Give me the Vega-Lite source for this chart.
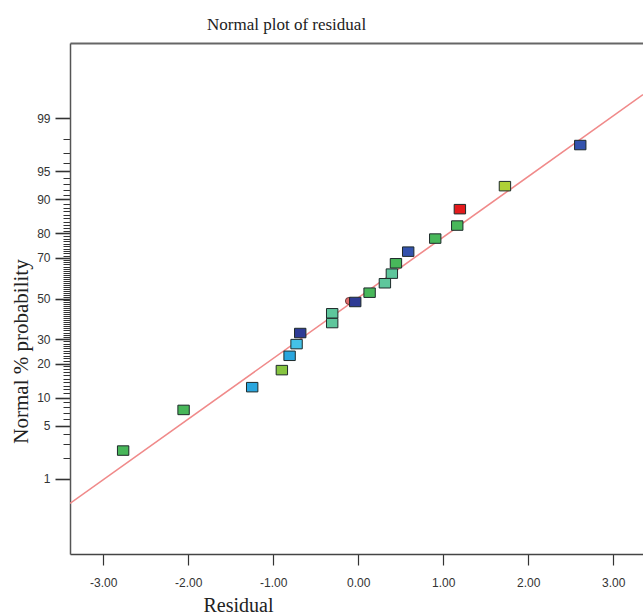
{
  "$schema": "https://vega.github.io/schema/vega-lite/v6.json",
  "autosize": "none",
  "padding": {"left": 70, "top": 43, "right": 0, "bottom": 60},
  "width": 573,
  "height": 511,
  "background": "white",
  "config": {"view": {"stroke": null}},
  "title": {"text": "Normal plot of residual", "anchor": "start", "frame": "group", "dx": 137, "font": "Liberation Serif", "fontSize": 17, "fontWeight": "normal", "color": "#222", "baseline": "alphabetic", "offset": -4},
  "datasets": {
    "fit_line": [
      {"residual": -3.39, "z": -2.646},
      {"residual": 3.35, "z": 2.633}
    ],
    "markers": [
      {"residual": -0.109, "z": -0.032}
    ],
    "residuals": [
      {"residual": -2.765, "z": -1.964, "level": "F"},
      {"residual": -2.054, "z": -1.439, "level": "F"},
      {"residual": -1.247, "z": -1.145, "level": "C"},
      {"residual": -0.898, "z": -0.925, "level": "G"},
      {"residual": -0.807, "z": -0.740, "level": "C"},
      {"residual": -0.725, "z": -0.589, "level": "D"},
      {"residual": -0.682, "z": -0.446, "level": "A"},
      {"residual": -0.306, "z": -0.317, "level": "E"},
      {"residual": -0.306, "z": -0.191, "level": "E"},
      {"residual": -0.035, "z": -0.045, "level": "A"},
      {"residual": 0.134, "z": 0.075, "level": "F"},
      {"residual": 0.314, "z": 0.197, "level": "E"},
      {"residual": 0.396, "z": 0.321, "level": "E"},
      {"residual": 0.444, "z": 0.455, "level": "F"},
      {"residual": 0.588, "z": 0.605, "level": "B"},
      {"residual": 0.906, "z": 0.774, "level": "F"},
      {"residual": 1.165, "z": 0.942, "level": "F"},
      {"residual": 1.196, "z": 1.154, "level": "H"},
      {"residual": 1.726, "z": 1.451, "level": "I"},
      {"residual": 2.612, "z": 1.982, "level": "B"}
    ]
  },
  "resolve": {"axis": {"x": "independent", "y": "independent"}},
  "layer": [
    {
      "data": {"name": "fit_line"},
      "mark": {"type": "line", "color": "#f08a8a", "strokeWidth": 1.6, "clip": true},
      "encoding": {
        "x": {"field": "residual", "type": "quantitative", "scale": {"domain": [-3.39, 3.35], "nice": false, "zero": false},
          "axis": {"orient": "top", "labels": false, "ticks": false, "title": null, "grid": false, "domainColor": "#666", "domainWidth": 2}},
        "y": {"field": "z", "type": "quantitative", "scale": {"domain": [-3.3, 3.3], "nice": false, "zero": false}, "axis": null}
      }
    },
    {
      "data": {"name": "markers"},
      "mark": {"type": "point", "shape": "circle", "filled": true, "size": 50, "fill": "#e06a6a", "stroke": "#552222", "strokeWidth": 0.8, "opacity": 1},
      "encoding": {
        "x": {"field": "residual", "type": "quantitative", "axis": null},
        "y": {"field": "z", "type": "quantitative",
          "axis": {"orient": "left", "grid": false, "labels": false, "domain": false, "title": null,
            "values": [-2.3263, -2.0537, -1.8808, -1.7507, -1.6449, -1.5548, -1.4758, -1.4051, -1.3408, -1.2816, -1.2265, -1.1750, -1.1264, -1.0803, -1.0364, -0.9945, -0.9542, -0.9154, -0.8779, -0.8416, -0.8064, -0.7722, -0.7388, -0.7063, -0.6745, -0.6433, -0.6128, -0.5828, -0.5534, -0.5244, -0.4959, -0.4677, -0.4399, -0.4125, -0.3853, -0.3585, -0.3319, -0.3055, -0.2793, -0.2533, -0.2275, -0.2019, -0.1764, -0.1510, -0.1257, -0.1004, -0.0753, -0.0502, -0.0251, 0, 0.0251, 0.0502, 0.0753, 0.1004, 0.1257, 0.1510, 0.1764, 0.2019, 0.2275, 0.2533, 0.2793, 0.3055, 0.3319, 0.3585, 0.3853, 0.4125, 0.4399, 0.4677, 0.4959, 0.5244, 0.5534, 0.5828, 0.6128, 0.6433, 0.6745, 0.7063, 0.7388, 0.7722, 0.8064, 0.8416, 0.8779, 0.9154, 0.9542, 0.9945, 1.0364, 1.0803, 1.1264, 1.1750, 1.2265, 1.2816, 1.3408, 1.4051, 1.4758, 1.5548, 1.6449, 1.7507, 1.8808, 2.0537, 2.3263],
            "tickSize": 7, "tickWidth": 1, "tickColor": "#333"}}
      }
    },
    {
      "data": {"name": "residuals"},
      "mark": {"type": "point", "shape": "M-1.2,-1H1.2V1H-1.2Z", "filled": true, "size": 90, "stroke": "#1e2a2a", "strokeWidth": 1, "opacity": 1},
      "encoding": {
        "x": {"field": "residual", "type": "quantitative",
          "axis": {"orient": "bottom", "values": [-3, -2, -1, 0, 1, 2, 3], "grid": false,
            "labelExpr": "(datum.value < 0 ? '-' : '') + format(abs(datum.value), '.2f')",
            "labelFont": "Liberation Sans", "labelFontSize": 12, "labelColor": "#333", "labelPadding": 12, "labelFlush": false,
            "tickSize": 11, "tickColor": "#333", "tickWidth": 1.2, "domainColor": "#444", "domainWidth": 1.5,
            "title": "Residual", "titleFont": "Liberation Serif", "titleFontSize": 20, "titleFontWeight": "normal", "titleColor": "#222",
            "titleX": 168, "titleY": 57, "titleAlign": "center", "titleBaseline": "alphabetic"}},
        "y": {"field": "z", "type": "quantitative",
          "axis": {"orient": "left", "grid": false,
            "values": [-2.3263, -1.6449, -1.2816, -0.8416, -0.5244, 0, 0.5244, 0.8416, 1.2816, 1.6449, 2.3263],
            "labelExpr": "format(round(cumulativeNormal(datum.value)*100), 'd')",
            "labelFont": "Liberation Sans", "labelFontSize": 12, "labelColor": "#333", "labelPadding": 5,
            "labelOverlap": false, "labelFlush": false, "labelBound": false,
            "tickSize": 15, "tickWidth": 1.6, "tickColor": "#333", "domainColor": "#555", "domainWidth": 1.5,
            "title": "Normal % probability", "titleFont": "Liberation Serif", "titleFontSize": 21, "titleFontWeight": "normal", "titleColor": "#222",
            "titleAngle": -90, "titleX": -43, "titleY": 308, "titleAlign": "center", "titleBaseline": "alphabetic"}},
        "color": {"field": "level", "type": "nominal", "legend": null,
          "scale": {"domain": ["A", "B", "C", "D", "E", "F", "G", "H", "I"],
            "range": ["#2e3b95", "#3352ad", "#2aa6de", "#44c2e8", "#5ec69c", "#48b75a", "#86c440", "#e41a1c", "#aed136"]}}
      }
    }
  ]
}
